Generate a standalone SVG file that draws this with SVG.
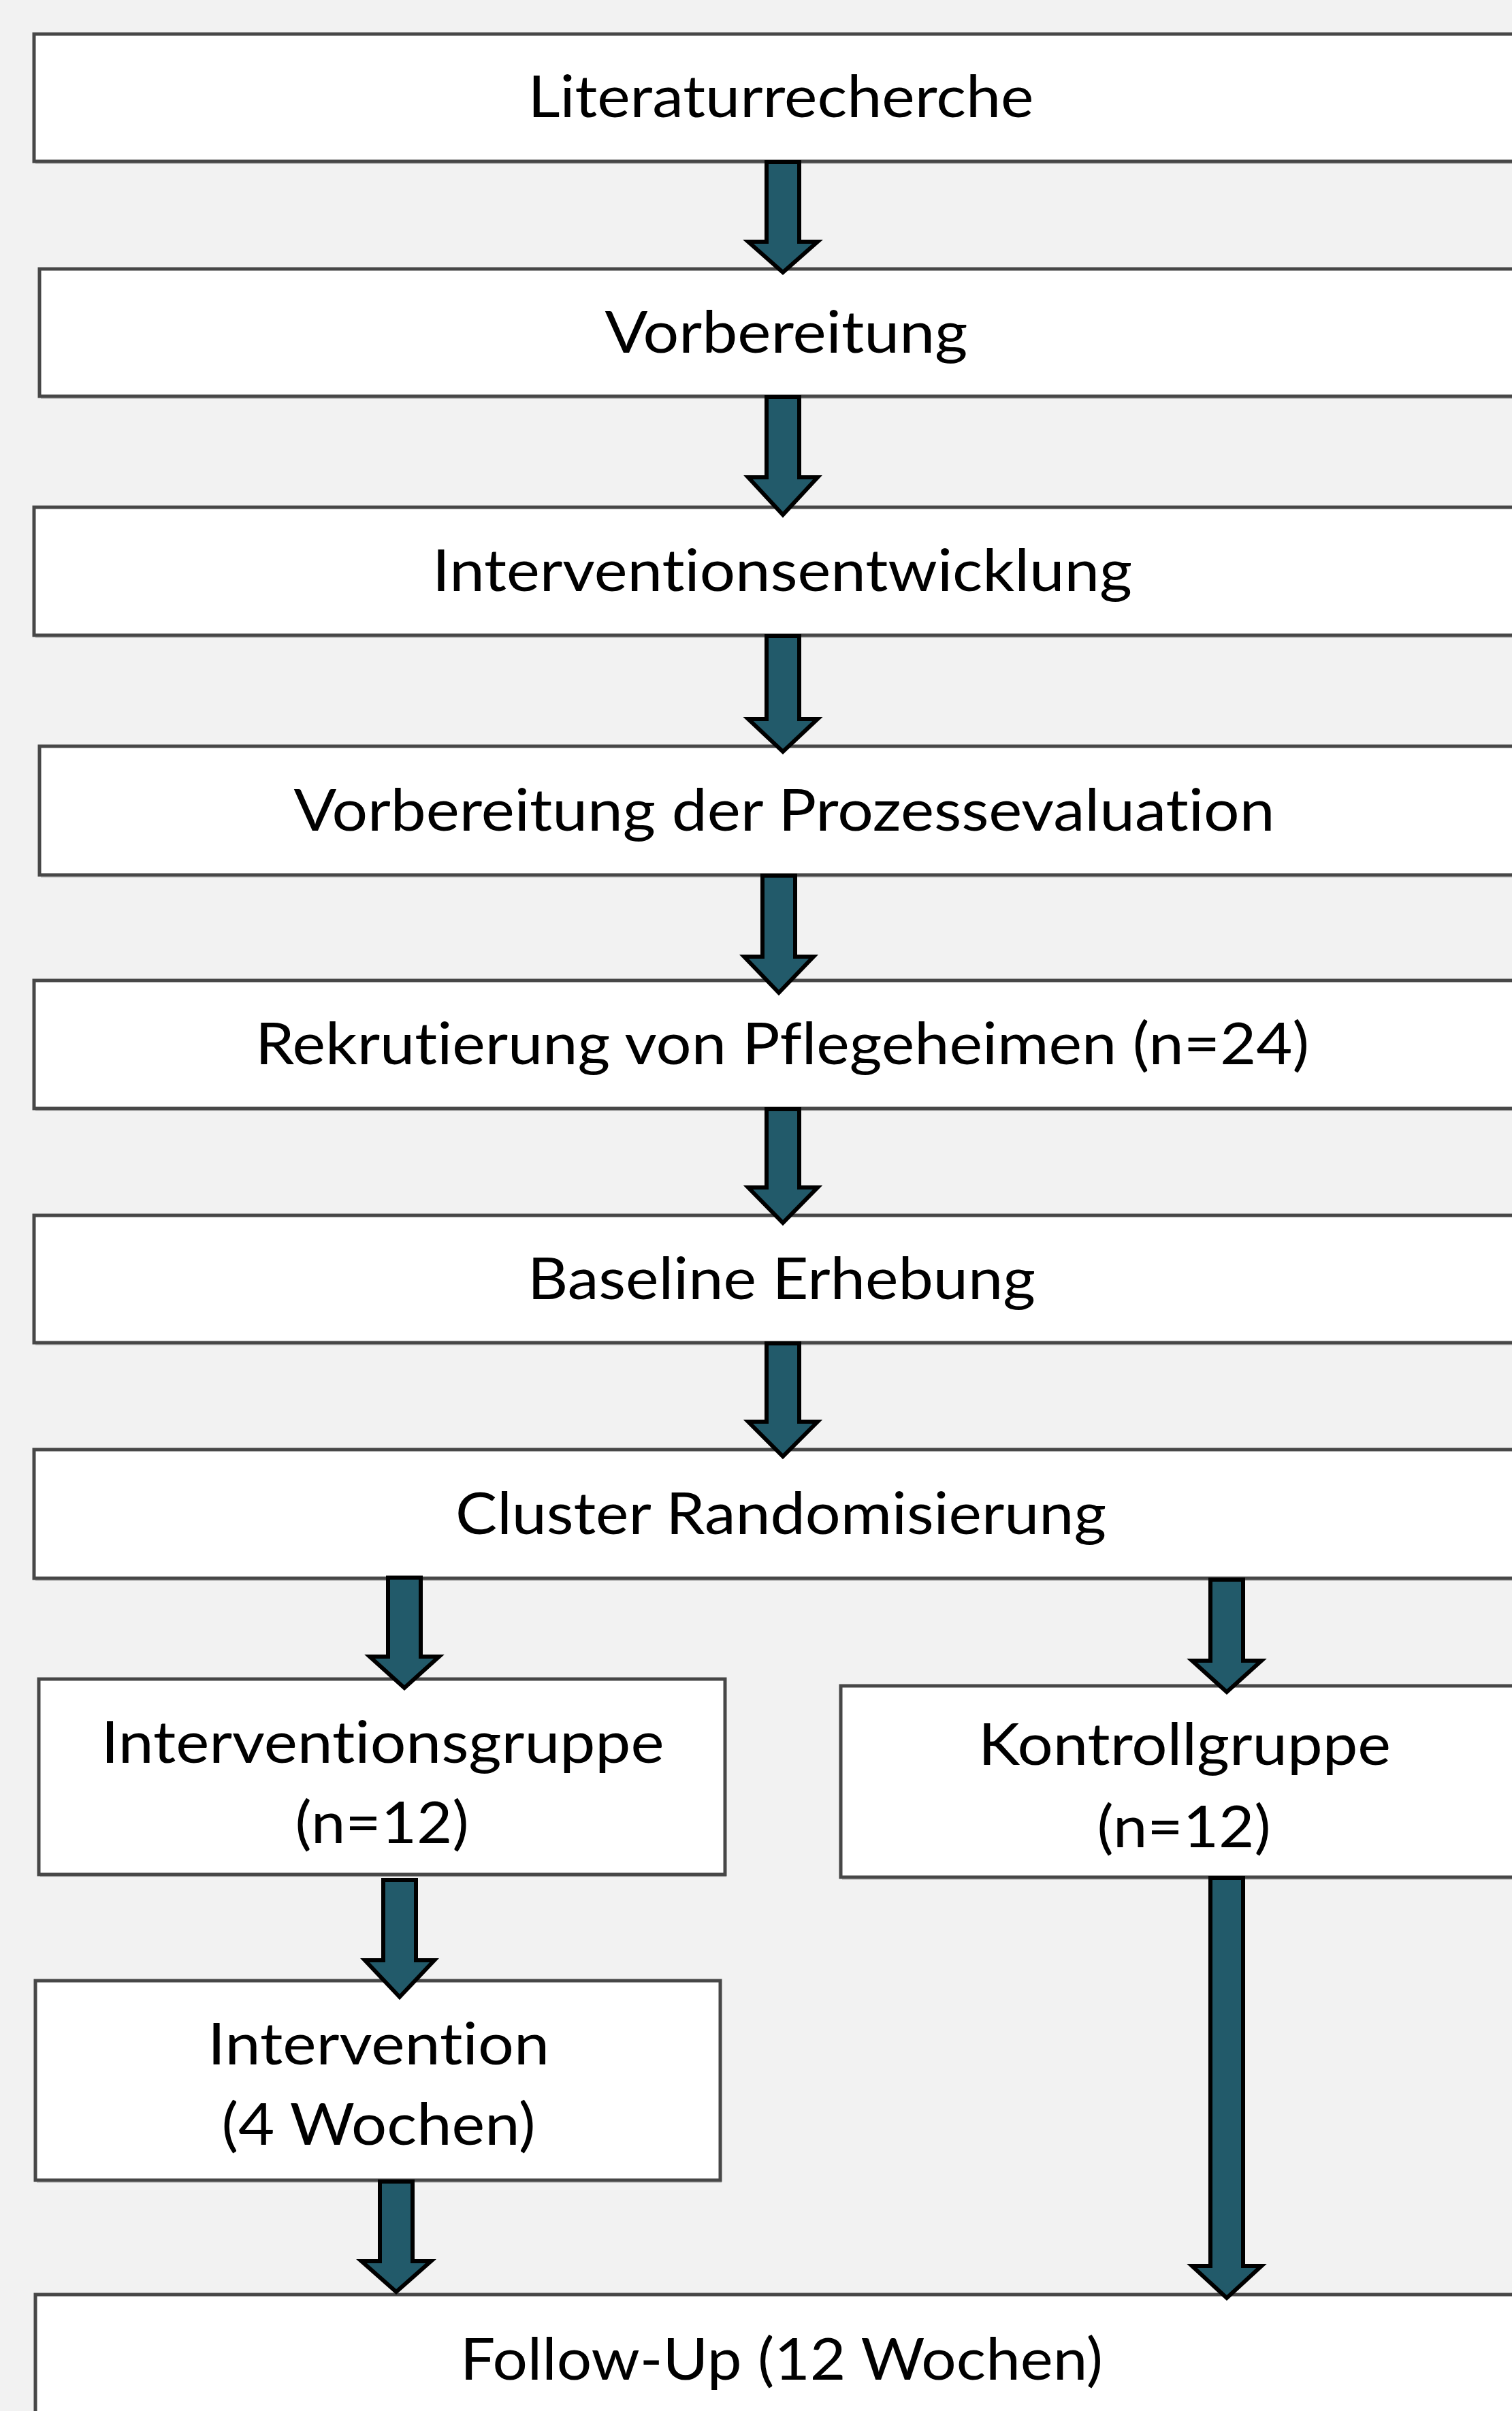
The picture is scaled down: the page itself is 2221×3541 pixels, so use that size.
<svg xmlns="http://www.w3.org/2000/svg" width="2221" height="3541" viewBox="0 0 2221 3541">
<style>
.sh{fill:#cdcdcd}
.box{fill:#ffffff;stroke:#474747;stroke-width:5}
.t{font-family:Lato,"Open Sans","Liberation Sans",sans-serif;font-size:86px;fill:#000000;text-anchor:middle;font-variant-ligatures:none;font-feature-settings:"liga" 0,"clig" 0,"dlig" 0}
.arr{fill:#225a6a;stroke:#000000;stroke-width:6;stroke-linejoin:miter;stroke-miterlimit:10}
</style>
<rect x="0" y="0" width="2221" height="3541" fill="#f2f2f2"/>
<g id="n1"><rect class="sh" x="52" y="54" width="2210" height="187"/><rect class="box" x="50" y="50" width="2210" height="187"/><text class="t" x="1147" y="172" textLength="743" lengthAdjust="spacingAndGlyphs">Literaturrecherche</text></g>
<g id="n2"><rect class="sh" x="60" y="399" width="2210" height="187"/><rect class="box" x="58" y="395" width="2210" height="187"/><text class="t" x="1155" y="518" textLength="533" lengthAdjust="spacingAndGlyphs">Vorbereitung</text></g>
<g id="n3"><rect class="sh" x="52" y="749" width="2210" height="188"/><rect class="box" x="50" y="745" width="2210" height="188"/><text class="t" x="1149" y="868" textLength="1028" lengthAdjust="spacingAndGlyphs">Interventionsentwicklung</text></g>
<g id="n4"><rect class="sh" x="60" y="1100" width="2210" height="189"/><rect class="box" x="58" y="1096" width="2210" height="189"/><text class="t" x="1152" y="1220" textLength="1441" lengthAdjust="spacingAndGlyphs">Vorbereitung der Prozessevaluation</text></g>
<g id="n5"><rect class="sh" x="52" y="1444" width="2210" height="188"/><rect class="box" x="50" y="1440" width="2210" height="188"/><text class="t" x="1149" y="1563" textLength="1548" lengthAdjust="spacingAndGlyphs">Rekrutierung von Pflegeheimen (n=24)</text></g>
<g id="n6"><rect class="sh" x="52" y="1789" width="2210" height="187"/><rect class="box" x="50" y="1785" width="2210" height="187"/><text class="t" x="1148" y="1908" textLength="746" lengthAdjust="spacingAndGlyphs">Baseline Erhebung</text></g>
<g id="n7"><rect class="sh" x="52" y="2133" width="2210" height="189"/><rect class="box" x="50" y="2129" width="2210" height="189"/><text class="t" x="1147" y="2253" textLength="956" lengthAdjust="spacingAndGlyphs">Cluster Randomisierung</text></g>
<g id="n8"><rect class="sh" x="59" y="2470" width="1008" height="287"/><rect class="box" x="57" y="2466" width="1008" height="287"/><text class="t" x="562" y="2589" textLength="827" lengthAdjust="spacingAndGlyphs">Interventionsgruppe</text><text class="t" x="561" y="2707" textLength="255" lengthAdjust="spacingAndGlyphs">(n=12)</text></g>
<g id="n9"><rect class="sh" x="1237" y="2480" width="1030" height="281"/><rect class="box" x="1235" y="2476" width="1030" height="281"/><text class="t" x="1740" y="2592" textLength="606" lengthAdjust="spacingAndGlyphs">Kontrollgruppe</text><text class="t" x="1739" y="2713" textLength="255" lengthAdjust="spacingAndGlyphs">(n=12)</text></g>
<g id="n10"><rect class="sh" x="54" y="2913" width="1006" height="293"/><rect class="box" x="52" y="2909" width="1006" height="293"/><text class="t" x="556" y="3032" textLength="502" lengthAdjust="spacingAndGlyphs">Intervention</text><text class="t" x="556" y="3150" textLength="461" lengthAdjust="spacingAndGlyphs">(4 Wochen)</text></g>
<g id="n11"><rect class="box" x="52" y="3370" width="2210" height="220"/><text class="t" x="1148" y="3495" textLength="944" lengthAdjust="spacingAndGlyphs">Follow-Up (12 Wochen)</text></g>
<g id="connectors">
<path class="arr" d="M1126 238 L1174 238 L1174 355 L1201 355 L1150 400 L1099 355 L1126 355 Z"/>
<path class="arr" d="M1126 583 L1174 583 L1174 701 L1201 701 L1150 756 L1099 701 L1126 701 Z"/>
<path class="arr" d="M1126 934 L1174 934 L1174 1056 L1201 1056 L1150 1104 L1099 1056 L1126 1056 Z"/>
<path class="arr" d="M1120 1286 L1168 1286 L1168 1405 L1195 1405 L1144 1458 L1093 1405 L1120 1405 Z"/>
<path class="arr" d="M1126 1629 L1174 1629 L1174 1744 L1201 1744 L1150 1796 L1099 1744 L1126 1744 Z"/>
<path class="arr" d="M1126 1973 L1174 1973 L1174 2088 L1201 2088 L1150 2139 L1099 2088 L1126 2088 Z"/>
<path class="arr" d="M570 2317 L618 2317 L618 2433 L645 2433 L594 2479 L543 2433 L570 2433 Z"/>
<path class="arr" d="M1778 2320 L1826 2320 L1826 2439 L1853 2439 L1802 2485 L1751 2439 L1778 2439 Z"/>
<path class="arr" d="M563 2761 L611 2761 L611 2879 L638 2879 L587 2933 L536 2879 L563 2879 Z"/>
<path class="arr" d="M558 3204 L606 3204 L606 3321 L633 3321 L582 3366 L531 3321 L558 3321 Z"/>
<path class="arr" d="M1778 2758 L1826 2758 L1826 3328 L1853 3328 L1802 3375 L1751 3328 L1778 3328 Z"/>
</g>
</svg>
